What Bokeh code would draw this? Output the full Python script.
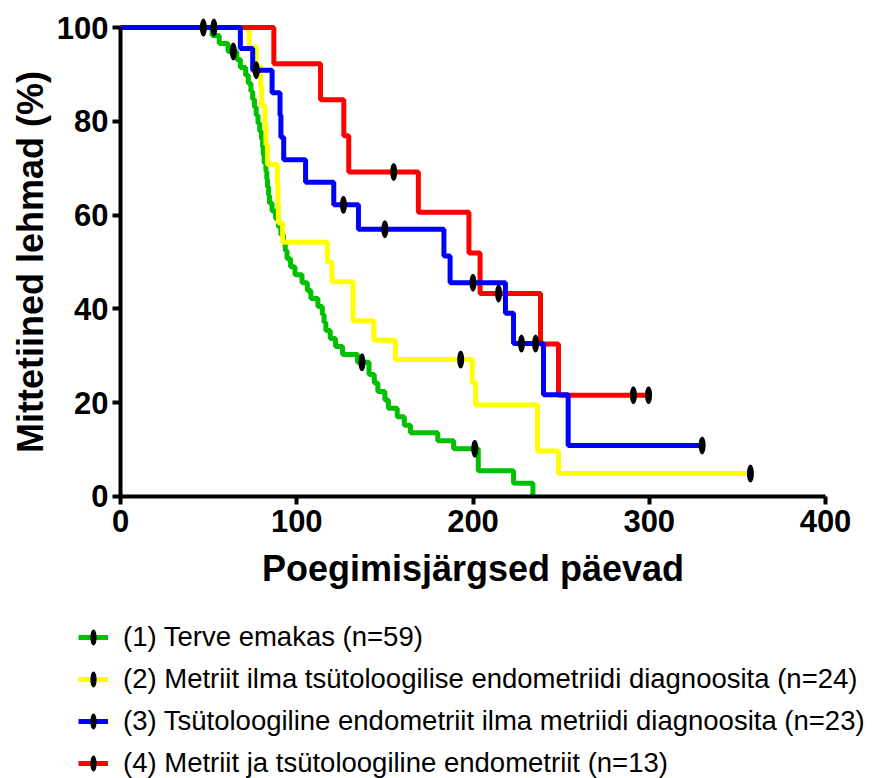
import numpy as np
from bokeh.plotting import figure
from bokeh.models import Range1d, FixedTicker, Legend, LegendItem
from bokeh.embed import file_html
from bokeh.resources import INLINE

# ---- data (days, % not pregnant) ----
green_t = [52, 56, 61, 66, 68, 71, 72.5, 74, 75, 76, 77, 78, 79, 80, 80.6, 81, 81.5, 82.5, 83,
           83.4, 84, 84.5, 86, 88, 89.6, 91, 92.5, 93.5, 94.5, 96.5, 99, 103, 106, 108, 112,
           114.5, 115.5, 116.5, 119, 122, 126, 134.5, 141, 144, 146, 150, 152, 157, 161, 164.5,
           180, 189, 203, 223, 234]
green_s = [98.3, 96.6, 94.9, 93.2, 91.5, 89.8, 88.1, 86.4, 84.7, 83.0, 81.3, 79.6, 77.9, 76.2,
           74.5, 72.8, 71.1, 69.4, 67.7, 66.0, 64.3, 62.6, 60.9, 59.2, 57.5, 55.8, 54.1, 52.4,
           50.7, 49.0, 47.3, 45.6, 43.9, 42.2, 40.5, 38.8, 37.1, 35.4, 33.7, 32.0, 30.3, 28.6,
           26.0, 24.2, 22.4, 20.6, 18.8, 17.0, 15.2, 13.6, 11.9, 10.2, 5.5, 2.8, 0.0]
green_cens_t = [47, 64, 137, 201]
green_cens_s = [100, 94.9, 28.6, 10.2]

yellow_t = [73, 77, 79.5, 80, 82, 82.5, 83.4, 89, 89.3, 89.6, 92, 117.4, 120, 132, 143.7, 156,
            199.6, 201.5, 236.6, 248.5]
yellow_s = [95.8, 91.7, 87.5, 83.3, 79.2, 75.0, 70.8, 66.7, 62.5, 58.3, 54.2, 50.0, 45.8, 37.5,
            33.3, 29.2, 24.3, 19.5, 9.7, 4.9]
yellow_cens_t = [193, 357.4]
yellow_cens_s = [29.2, 4.9]

blue_t = [68, 75, 86, 90.5, 91, 92.6, 105, 121, 135, 183.5, 187, 218.4, 223, 240, 254]
blue_s = [95.5, 90.9, 86.1, 81.3, 76.6, 71.8, 67.0, 62.2, 57.0, 51.3, 45.6, 39.1, 32.6, 21.7, 10.9]
blue_cens_t = [53, 77, 126.5, 150, 200, 227.5, 235.5, 330]
blue_cens_s = [100, 90.9, 62.2, 57.0, 45.6, 32.6, 32.6, 10.9]

red_t = [87, 113.5, 126.7, 129.5, 169, 197.7, 204, 238.3, 248.5]
red_s = [92.3, 84.6, 76.9, 69.2, 60.6, 51.9, 43.3, 32.5, 21.6]
red_cens_t = [155, 214.5, 291, 299.6]
red_cens_s = [69.2, 43.3, 21.6, 21.6]

labels = [
    "(1) Terve emakas (n=59)",
    "(2) Metriit ilma tsütoloogilise endometriidi diagnoosita (n=24)",
    "(3) Tsütoloogiline endometriit ilma metriidi diagnoosita (n=23)",
    "(4) Metriit ja tsütoloogiline endometriit (n=13)",
]
x_ticks = [0, 100, 200, 300, 400]
y_ticks = [0, 20, 40, 60, 80, 100]

colors = ["#00C000", "#FFFF00", "#0000FF", "#FF0000"]

# frame covers the whole canvas; axes are pinned at x=0 / y=0
p = figure(width=873, height=778,
           x_range=Range1d(-68.09, 427.23), y_range=Range1d(-60.13, 105.76),
           min_border=0, toolbar_location=None, output_backend="svg")
p.outline_line_color = None
p.grid.visible = False

series = {
    0: (green_t, green_s, green_cens_t, green_cens_s, None),
    1: (yellow_t, yellow_s, yellow_cens_t, yellow_cens_s, yellow_cens_t[-1]),
    2: (blue_t, blue_s, blue_cens_t, blue_cens_s, blue_cens_t[-1]),
    3: (red_t, red_s, red_cens_t, red_cens_s, red_cens_t[-1]),
}
draw_order = [0, 1, 3, 2]  # green, yellow, red, blue on top
line_r = {}
for idx in draw_order:
    t, s, ct, cs, end = series[idx]
    xs = [0] + list(t)
    ys = [100] + list(s)
    if end is not None:
        xs.append(end)
        ys.append(s[-1])
    line_r[idx] = p.step(x=xs, y=ys, mode="after", line_color=colors[idx], line_width=5)

cens_r = {}
for idx in draw_order:
    t, s, ct, cs, end = series[idx]
    cens_r[idx] = p.ellipse(x=ct, y=cs, width=7, height=18, width_units="screen",
                            height_units="screen", fill_color="black", line_color=None)

for ax in (p.xaxis[0], p.yaxis[0]):
    ax.fixed_location = 0
    ax.axis_line_width = 4
    ax.axis_line_color = "black"
    ax.major_tick_line_width = 4
    ax.major_tick_out = 8
    ax.major_tick_in = 0
    ax.minor_tick_line_color = None
    ax.major_label_text_font = "Liberation Sans"
    ax.major_label_text_font_style = "bold"
    ax.major_label_text_font_size = "31px"
    ax.major_label_text_color = "black"
    ax.axis_label_text_font = "Liberation Sans"
    ax.axis_label_text_font_style = "bold"
    ax.axis_label_text_font_size = "36px"
    ax.axis_label_text_color = "black"

p.xaxis[0].major_label_standoff = 6
p.yaxis[0].major_label_standoff = 4
p.xaxis[0].ticker = FixedTicker(ticks=x_ticks)
p.yaxis[0].ticker = FixedTicker(ticks=y_ticks)
p.xaxis[0].bounds = (0, 400)
p.yaxis[0].bounds = (0, 100)
p.xaxis[0].axis_label = "Poegimisjärgsed päevad"
p.yaxis[0].axis_label = "Mittetiined lehmad (%)"
p.xaxis[0].axis_label_standoff = 12
p.yaxis[0].axis_label_standoff = 3

items = [LegendItem(label=labels[i], renderers=[line_r[i], cens_r[i]]) for i in range(4)]
legend = Legend(items=items, location=(78, -6), orientation="vertical",
                glyph_width=30, glyph_height=20, label_standoff=15, spacing=0,
                label_height=42, padding=0, margin=0, border_line_color=None,
                background_fill_alpha=0,
                label_text_font="Liberation Sans", label_text_font_size="27.5px",
                label_text_color="black")
p.add_layout(legend, "center")

open("out.html", "w").write(file_html(p, INLINE))
